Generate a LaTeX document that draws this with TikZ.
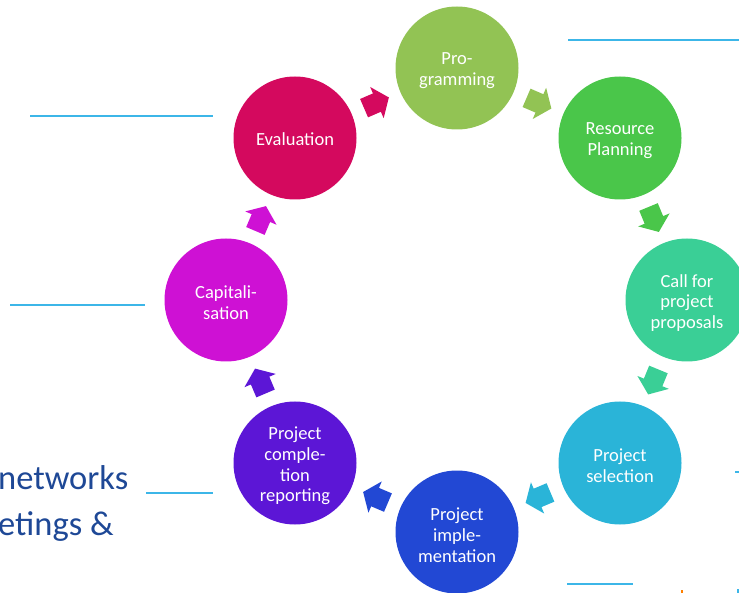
\documentclass[tikz,border=0pt]{standalone}
\usepackage{fontspec}
\setmainfont{Carlito}
\usetikzlibrary{calc}
\definecolor{cProg}{RGB}{146,195,84}
\definecolor{cRes}{RGB}{74,198,74}
\definecolor{cCall}{RGB}{58,207,150}
\definecolor{cSel}{RGB}{42,180,216}
\definecolor{cImpl}{RGB}{34,72,212}
\definecolor{cComp}{RGB}{92,22,214}
\definecolor{cCap}{RGB}{206,17,212}
\definecolor{cEval}{RGB}{212,9,94}
\definecolor{cLine}{RGB}{60,182,232}
\definecolor{cNavy}{RGB}{30,72,150}
\tikzset{
  stage/.style={circle, minimum size=123pt, inner sep=0pt},
  stagetext/.style={text=white, align=center, inner sep=0pt, yshift=-3pt,
    font=\fontsize{18.5}{20.8}\selectfont},
  guide/.style={draw=cLine, line width=1.5pt},
  side/.style={text=cNavy, anchor=base west, inner sep=0pt, font=\fontsize{34.5}{40}\selectfont}
}
% house-shaped flow arrow placed halfway between two stages, pointing from #2 to #3
\newcommand\flowarr[3]{%
  \fill[#1] let \p1=($(#3)-(#2)$), \n1={atan2(\y1,\x1)} in
    [shift={($(#2)!0.5!(#3)$)}, rotate=\n1]
    (-13,-10) -- (1,-10) -- (1,-17) -- (14,0) -- (1,17) -- (1,10) -- (-13,10) -- cycle;}
\begin{document}
\begin{tikzpicture}[x=1pt,y=-1pt]
\useasboundingbox (0,0) rectangle (739,593);
\clip (0,0) rectangle (739,593);
% guide lines
\draw[guide] (568,40) -- (739,40);
\draw[guide] (30,116) -- (213,116);
\draw[guide] (10,305) -- (145,305);
\draw[guide] (146,493) -- (213,493);
\draw[guide] (567,584) -- (633,584);
\draw[guide] (735,472) -- (739,472);
\fill[orange] (681,590) rectangle (683,593);
\fill[cLine] (737,589) rectangle (739,593);
% side text
\node[side] (tnet) at (-2,489) {networks};
\node[side] (tmeet) at (-2,535) {etings \&};
% stages
\node[stage, fill=cProg, label={[stagetext]center:{Pro-\\gramming}}] (prog) at (457,68) {};
\node[stage, fill=cRes, label={[stagetext]center:{Resource\\Planning}}] (res) at (620,138) {};
\node[stage, fill=cCall, label={[stagetext]center:{Call for\\project\\proposals}}] (call) at (687,300) {};
\node[stage, fill=cSel, label={[stagetext]center:{Project\\selection}}] (sel) at (620,463) {};
\node[stage, fill=cImpl, label={[stagetext]center:{Project\\imple-\\mentation}}] (impl) at (457,532) {};
\node[stage, fill=cComp, label={[stagetext]center:{Project\\comple-\\tion\\reporting}}] (comp) at (295,463) {};
\node[stage, fill=cCap, label={[stagetext]center:{Capitali-\\sation}}] (cap) at (226,300) {};
\node[stage, fill=cEval, label={[stagetext, yshift=2pt]center:{Evaluation}}] (eval) at (295,138) {};
% flow arrows
\flowarr{cEval}{eval}{prog}
\flowarr{cProg}{prog}{res}
\flowarr{cRes}{res}{call}
\flowarr{cCall}{call}{sel}
\flowarr{cSel}{sel}{impl}
\flowarr{cImpl}{impl}{comp}
\flowarr{cComp}{comp}{cap}
\flowarr{cCap}{cap}{eval}
\end{tikzpicture}
\end{document}
